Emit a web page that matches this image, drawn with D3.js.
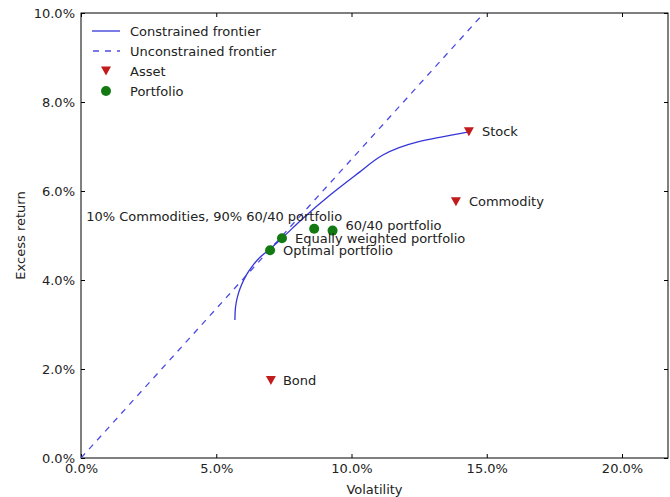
<!DOCTYPE html>
<html>
<head>
<meta charset="utf-8">
<script src="https://cdnjs.cloudflare.com/ajax/libs/d3/7.8.5/d3.min.js"></script>
<style>
  body { margin: 0; background: #fff; }
  text { font-family: "DejaVu Sans", sans-serif; font-size: 13px; fill: #222; }
  .tick line { stroke: #000; }
  .domain { display: none; }
</style>
</head>
<body>
<div id="chart"></div>
<script>
// ----------------------------------------------
// Data
// ----------------------------------------------
var frontierVol = [0.0569, 0.0570, 0.0574, 0.0582, 0.0594, 0.0610, 0.0632, 0.0660, 0.0699, 0.0743, 0.0821, 0.0921, 0.1031, 0.1098, 0.1116, 0.1242, 0.1434];
var frontierRet = [0.0310, 0.0330, 0.0350, 0.0370, 0.0390, 0.0410, 0.0430, 0.0450, 0.0470, 0.0494, 0.0539, 0.0591, 0.0643, 0.0674, 0.0681, 0.0710, 0.0733];

var unconstrainedVol = [0.0, 0.16];
var unconstrainedRet = [0.0, 0.1074];

var assetNames = ["Stock", "Commodity", "Bond"];
var assetVol = [0.1434, 0.1386, 0.0702];
var assetRet = [0.0733, 0.0576, 0.0174];

var portfolioNames = ["Optimal portfolio", "Equally weighted portfolio", "60/40 portfolio", "10% Commodities, 90% 60/40 portfolio"];
var portfolioVol = [0.0699, 0.0743, 0.0930, 0.0862];
var portfolioRet = [0.0467, 0.0494, 0.0511, 0.0515];

var xTicks = [0, 0.05, 0.10, 0.15, 0.20];
var yTicks = [0, 0.02, 0.04, 0.06, 0.08, 0.10];

var legendLabels = ["Constrained frontier", "Unconstrained frontier", "Asset", "Portfolio"];

// ----------------------------------------------
// Basic D3 Setup
// ----------------------------------------------
var svgWidth = 670;
var svgHeight = 497;

var margin = { top: 13, right: 2, bottom: 39, left: 81 };
var width = svgWidth - margin.left - margin.right;
var height = svgHeight - margin.top - margin.bottom;

var svg = d3.select("#chart")
    .append("svg")
    .attr("width", svgWidth)
    .attr("height", svgHeight);

var chartGroup = svg.append("g")
    .attr("transform", `translate(${margin.left}, ${margin.top})`);

var xLinearScale = d3.scaleLinear().domain([0, 0.217]).range([0, width]);
var yLinearScale = d3.scaleLinear().domain([0, 0.10]).range([height, 0]);

var pct = d3.format(".1%");

// clip for the lines
svg.append("defs").append("clipPath")
    .attr("id", "plotClip")
    .append("rect")
    .attr("width", width)
    .attr("height", height);

// ----------------------------------------------
// Axes (ticks point inward, like matplotlib classic)
// ----------------------------------------------
chartGroup.append("g")
    .attr("transform", `translate(0, ${height})`)
    .call(d3.axisBottom(xLinearScale).tickValues(xTicks).tickFormat(pct).tickSizeInner(-4).tickPadding(6));
chartGroup.append("g")
    .call(d3.axisTop(xLinearScale).tickValues(xTicks).tickFormat("").tickSizeInner(-4));
chartGroup.append("g")
    .call(d3.axisLeft(yLinearScale).tickValues(yTicks).tickFormat(pct).tickSizeInner(-4).tickPadding(6));
chartGroup.append("g")
    .attr("transform", `translate(${width}, 0)`)
    .call(d3.axisRight(yLinearScale).tickValues(yTicks).tickFormat("").tickSizeInner(-4));

chartGroup.selectAll(".tick text").style("font-size", "13px").attr("fill", "#222");

// frame
chartGroup.append("rect")
    .attr("width", width)
    .attr("height", height)
    .attr("fill", "none")
    .attr("stroke", "#000")
    .attr("stroke-width", 1);

// axis labels
chartGroup.append("text")
    .attr("x", width / 2)
    .attr("y", height + 36)
    .attr("text-anchor", "middle")
    .text("Volatility");
chartGroup.append("text")
    .attr("transform", `translate(-56, ${height / 2}) rotate(-90)`)
    .attr("text-anchor", "middle")
    .text("Excess return");

// ----------------------------------------------
// Lines
// ----------------------------------------------
var line = d3.line()
    .x(d => xLinearScale(d[0]))
    .y(d => yLinearScale(d[1]));

var plotArea = chartGroup.append("g").attr("clip-path", "url(#plotClip)");

plotArea.append("path")
    .datum(unconstrainedVol.map((v, i) => [v, unconstrainedRet[i]]))
    .attr("d", line)
    .attr("fill", "none")
    .attr("stroke", "#4b4be0")
    .attr("stroke-width", 1.3)
    .attr("stroke-dasharray", "6,6");

plotArea.append("path")
    .datum(frontierVol.map((v, i) => [v, frontierRet[i]]))
    .attr("d", d3.line().curve(d3.curveMonotoneY).x(d => xLinearScale(d[0])).y(d => yLinearScale(d[1])))
    .attr("fill", "none")
    .attr("stroke", "#3535d8")
    .attr("stroke-width", 1.3);

// ----------------------------------------------
// Markers and labels
// ----------------------------------------------
var triangle = "M-5,-4.5L5,-4.5L0,4.5Z";

var assetOffsets = { "Stock": [13, 0], "Commodity": [13, 0], "Bond": [12, 0] };
var portfolioOffsets = {
    "Optimal portfolio": [13, 0, "start"],
    "Equally weighted portfolio": [13, 0, "start"],
    "60/40 portfolio": [13, -5, "start"],
    "10% Commodities, 90% 60/40 portfolio": [28, -12, "end"]
};

chartGroup.selectAll(".asset")
    .data(assetNames)
    .enter()
    .append("path")
    .classed("asset", true)
    .attr("d", triangle)
    .attr("transform", (d, i) => `translate(${xLinearScale(assetVol[i])}, ${yLinearScale(assetRet[i])})`)
    .attr("fill", "#c21b1b");

chartGroup.selectAll(".assetText")
    .data(assetNames)
    .enter()
    .append("text")
    .attr("x", (d, i) => xLinearScale(assetVol[i]) + assetOffsets[d][0])
    .attr("y", (d, i) => yLinearScale(assetRet[i]) + assetOffsets[d][1])
    .attr("dy", "0.35em")
    .text(d => d);

chartGroup.selectAll(".portfolio")
    .data(portfolioNames)
    .enter()
    .append("circle")
    .classed("portfolio", true)
    .attr("cx", (d, i) => xLinearScale(portfolioVol[i]))
    .attr("cy", (d, i) => yLinearScale(portfolioRet[i]))
    .attr("r", 5)
    .attr("fill", "#137a13");

chartGroup.selectAll(".portfolioText")
    .data(portfolioNames)
    .enter()
    .append("text")
    .attr("x", (d, i) => xLinearScale(portfolioVol[i]) + portfolioOffsets[d][0])
    .attr("y", (d, i) => yLinearScale(portfolioRet[i]) + portfolioOffsets[d][1])
    .attr("dy", "0.35em")
    .attr("text-anchor", d => portfolioOffsets[d][2])
    .text(d => d);

// ----------------------------------------------
// Legend (no frame)
// ----------------------------------------------
var legend = svg.append("g").attr("transform", "translate(92, 31)");
legendLabels.forEach((label, i) => {
    var row = legend.append("g").attr("transform", `translate(0, ${i * 20})`);
    if (i === 0) {
        row.append("line").attr("x1", 0).attr("x2", 28)
            .attr("stroke", "#3535d8").attr("stroke-width", 1.3);
    } else if (i === 1) {
        row.append("line").attr("x1", 0).attr("x2", 28)
            .attr("stroke", "#4b4be0").attr("stroke-width", 1.3)
            .attr("stroke-dasharray", "6,6").attr("stroke-dashoffset", -1);
    } else if (i === 2) {
        row.append("path").attr("d", triangle)
            .attr("transform", "translate(14, 0)").attr("fill", "#c21b1b");
    } else {
        row.append("circle").attr("cx", 14).attr("r", 5).attr("fill", "#137a13");
    }
    row.append("text")
        .attr("x", 38)
        .attr("dy", "0.35em")
        .text(label);
});
</script>
</body>
</html>
